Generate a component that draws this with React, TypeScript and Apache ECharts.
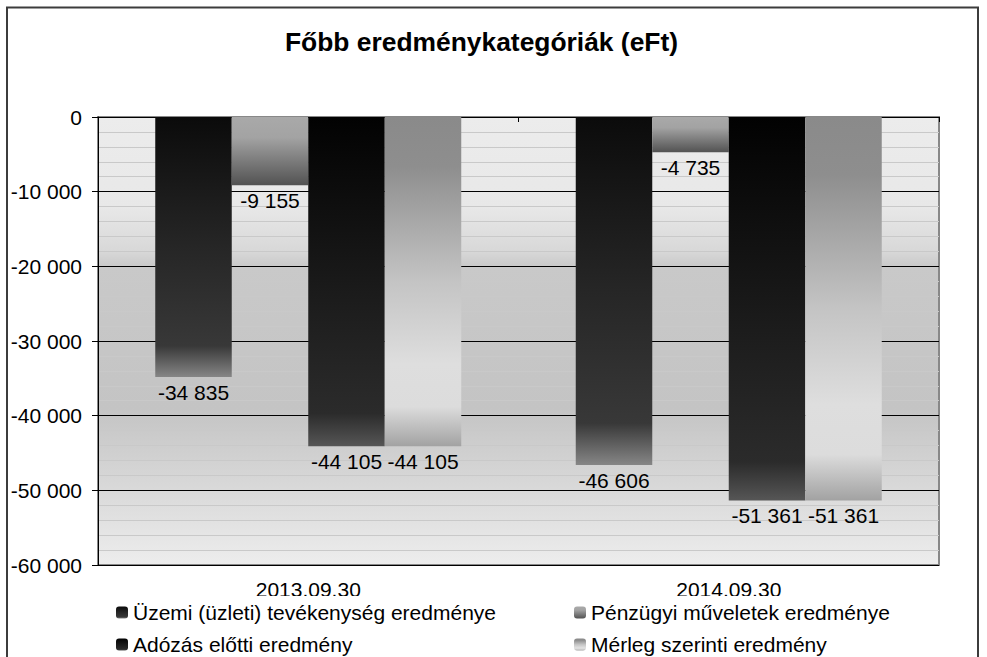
import React, { useEffect, useRef } from "react";
import * as echarts from "echarts";

const categories = ["2013.09.30", "2014.09.30"];
const seriesNames = [
  "Üzemi (üzleti) tevékenység eredménye",
  "Pénzügyi műveletek eredménye",
  "Adózás előtti eredmény",
  "Mérleg szerinti eredmény",
];
const uzemi = [-34835, -46606];
const penzugyi = [-9155, -4735];
const adozasElotti = [-44105, -51361];
const merleg = [-44105, -51361];
const seriesValues = [uzemi, penzugyi, adozasElotti, merleg];

const FONT = "'Liberation Sans', Arial, sans-serif";

function fmt(v: number): string {
  const s = Math.abs(Math.round(v))
    .toString()
    .replace(/\B(?=(\d{3})+(?!\d))/g, " ");
  return (v < 0 ? "-" : "") + s;
}

function grad(stops: [number, string][]) {
  return {
    type: "linear",
    x: 0,
    y: 0,
    x2: 0,
    y2: 1,
    colorStops: stops.map(([offset, color]) => ({ offset, color })),
  };
}

const seriesFills = [
  grad([
    [0, "#0b0b0b"],
    [0.5, "#262626"],
    [0.88, "#383838"],
    [1, "#868686"],
  ]),
  grad([
    [0, "#a9a9a9"],
    [0.3, "#a3a3a3"],
    [1, "#525252"],
  ]),
  grad([
    [0, "#020202"],
    [0.6, "#1e1e1e"],
    [0.9, "#2b2b2b"],
    [1, "#565656"],
  ]),
  grad([
    [0, "#8a8a8a"],
    [0.15, "#8e8e8e"],
    [0.5, "#c4c4c4"],
    [0.75, "#dedede"],
    [0.88, "#dcdcdc"],
    [1, "#a2a2a2"],
  ]),
];

// legend slots: [left, top] of each legend box (one item each)
const legendSlots: [number, number][] = [
  [110, 596],
  [568, 596],
  [110, 628],
  [568, 628],
];

export default function App() {
  const ref = useRef<HTMLDivElement>(null);

  useEffect(() => {
    if (!ref.current) return;
    const chart = echarts.init(ref.current, undefined, { renderer: "svg" });
    const option: any = {
      animation: false,
      backgroundColor: "#ffffff",
      textStyle: { fontFamily: FONT, color: "#000" },
      title: {
        text: "Főbb eredménykategóriák (eFt)",
        left: 285,
        top: 29,
        padding: 0,
        textStyle: {
          fontFamily: FONT,
          fontWeight: "bold",
          fontSize: 26.4,
          color: "#000",
        },
      },
      graphic: [
        {
          type: "rect",
          shape: { x: 7, y: 7.5, width: 971, height: 720 },
          style: { fill: "none", stroke: "#3c3c3c", lineWidth: 2 },
          silent: true,
          z: 100,
        },
      ],
      legend: seriesNames.map((name, i) => ({
        data: [name],
        orient: "horizontal",
        left: legendSlots[i][0],
        top: legendSlots[i][1],
        padding: 6,
        itemWidth: 12,
        itemHeight: 12,
        backgroundColor: "#ffffff",
        selectedMode: false,
        textStyle: { fontFamily: FONT, fontSize: 21, color: "#000" },
      })),
      grid: {
        left: 98,
        right: 48,
        top: 117,
        bottom: 92,
        show: true,
        borderColor: "#888888",
        borderWidth: 2,
        backgroundColor: grad([
          [0, "#ececec"],
          [0.2, "#e8e8e8"],
          [0.3, "#d8d8d8"],
          [0.335, "#c9c9c9"],
          [0.65, "#c4c4c4"],
          [1, "#ededed"],
        ]),
      },
      xAxis: [
        {
          type: "category",
          data: categories,
          position: "bottom",
          axisLine: { show: false },
          axisTick: { show: false },
          axisLabel: {
            margin: 14,
            fontFamily: FONT,
            fontSize: 21,
            color: "#000",
          },
        },
        {
          type: "category",
          data: categories,
          position: "top",
          axisLine: { show: true, lineStyle: { color: "#000", width: 1 } },
          axisTick: {
            show: true,
            inside: true,
            length: 5,
            lineStyle: { color: "#000" },
          },
          axisLabel: { show: false },
        },
      ],
      yAxis: {
        type: "value",
        min: -60000,
        max: 0,
        interval: 10000,
        axisLine: { show: true, lineStyle: { color: "#000", width: 1 } },
        axisTick: { show: true, length: 6, lineStyle: { color: "#000" } },
        axisLabel: {
          margin: 16,
          fontFamily: FONT,
          fontSize: 21,
          color: "#000",
          formatter: (v: number) => fmt(v),
        },
        splitLine: { show: true, lineStyle: { color: "#000", width: 1 } },
        minorTick: { show: false, splitNumber: 5 },
        minorSplitLine: {
          show: true,
          lineStyle: { color: "#c9c9c9", width: 1 },
        },
      },
      series: seriesNames.map((name, i) => ({
        name,
        type: "bar",
        xAxisIndex: 0,
        data: seriesValues[i],
        barWidth: 76.5,
        barGap: "0%",
        itemStyle: { color: seriesFills[i] },
        label: {
          show: true,
          position: "bottom",
          distance: 5,
          fontFamily: FONT,
          fontSize: 21,
          color: "#000",
          formatter: (p: any) => fmt(p.value),
        },
      })),
    };
    chart.setOption(option);
    return () => chart.dispose();
  }, []);

  return (
    <div
      ref={ref}
      style={{ position: "fixed", left: 0, top: 0, width: 987, height: 657 }}
    />
  );
}
